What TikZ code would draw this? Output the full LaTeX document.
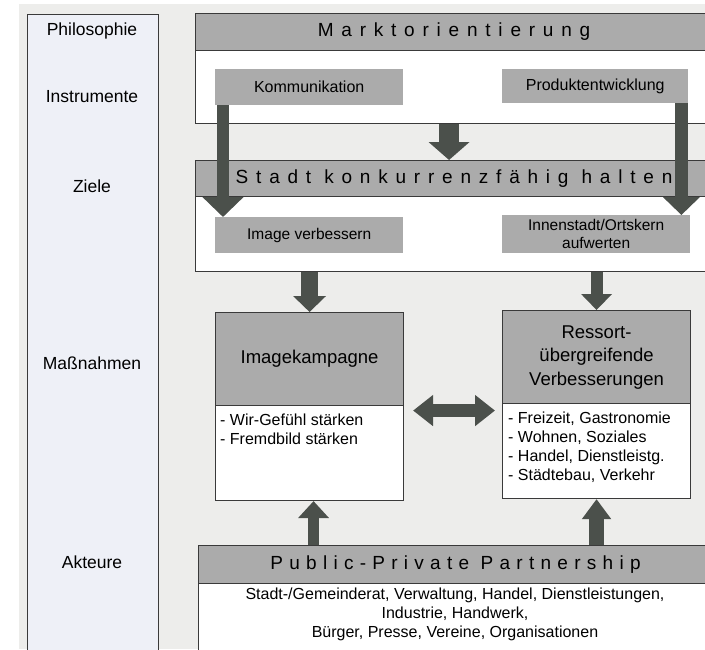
\documentclass[tikz,border=0pt]{standalone}
\usepackage{fontspec}
\setmainfont{Liberation Sans}
\newfontfamily\spaced[LetterSpace=41]{Liberation Sans}
\newfontfamily\spacedppp[LetterSpace=33]{Liberation Sans}
\usetikzlibrary{arrows.meta,positioning}
\definecolor{pagebg}{HTML}{EDEDEB}
\definecolor{colbg}{HTML}{EEF0F7}
\definecolor{headgray}{HTML}{ABABAB}
\definecolor{arrowgray}{HTML}{4B504B}
\definecolor{linegray}{HTML}{3A3A3A}
\tikzset{
  frame/.style={draw=linegray, line width=1.1pt, fill=white, anchor=north west, inner sep=0pt},
  headbox/.style={frame, fill=headgray, align=center},
  tagbox/.style={fill=headgray, anchor=north west, inner sep=0pt, align=center},
  leveltext/.style={font=\fontsize{17.5}{20}\selectfont},
  titletext/.style={font=\fontsize{18.5}{23.5}\selectfont},
  listtext/.style={anchor=west, align=left, inner sep=0pt},
  blockarrow/.style n args={3}{draw=arrowgray, line width=#1, -{Triangle[width=#2, length=#3]}},
}
\begin{document}
\begin{tikzpicture}[x=1pt, y=-1pt, font=\fontsize{16}{19}\selectfont]
\useasboundingbox (0,0) rectangle (705,649);
\fill[pagebg] (19,4) rectangle (705,649);

% left column with the levels
\node[frame, fill=colbg, minimum width=131pt, minimum height=660pt] (col) at (27,14) {};
\node[leveltext] (philo) at (92,31) {Philosophie};
\node[leveltext] (instr) at (92,97) {Instrumente};
\node[leveltext] (ziele) at (92,186) {Ziele};
\node[leveltext] (massn) at (92,363) {Maßnahmen};
\node[leveltext] (akteure) at (92,562) {Akteure};

% Philosophie / Instrumente
\node[frame, minimum width=517pt, minimum height=110pt] (markt) at (195,13) {};
\node[headbox, minimum width=517pt, minimum height=37pt] (markthead) at (195,13)
  {\spaced\fontsize{19}{22}\selectfont Marktorientierung};
\node[tagbox, minimum width=188pt, minimum height=36pt] (komm) at (215,69) {Kommunikation};
\node[tagbox, minimum width=186pt, minimum height=34pt] (prod) at (502,69) {Produktentwicklung};

% Ziele
\node[frame, minimum width=517pt, minimum height=111pt] (zielbox) at (195,160) {};
\node[headbox, minimum width=517pt, minimum height=36pt] (zielhead) at (195,160)
  {\spaced\fontsize{19}{22}\selectfont Stadt konkurrenzfähig halten};
\node[tagbox, minimum width=188pt, minimum height=36pt, font=\fontsize{15.5}{18}\selectfont] (imgv) at (215,217) {Image verbessern};
\node[tagbox, minimum width=188pt, minimum height=38pt, font=\fontsize{15.5}{18}\selectfont] (innen) at (502,215) {Innenstadt/Ortskern\\aufwerten};

% Massnahmen
\node[frame, minimum width=188pt, minimum height=188pt] (imgk) at (215,312) {};
\node[headbox, titletext, minimum width=188pt, minimum height=93pt] (imgkhead) at (215,312) {Imagekampagne};
\node[listtext] (imgklist) at (220,429) {- Wir-Gefühl stärken\\- Fremdbild stärken};

\node[frame, minimum width=188pt, minimum height=188pt] (ress) at (502,310) {};
\node[headbox, titletext, minimum width=188pt, minimum height=93pt] (resshead) at (502,310)
  {Ressort-\\übergreifende\\Verbesserungen};
\node[listtext] (resslist) at (508,447)
  {- Freizeit, Gastronomie\\- Wohnen, Soziales\\- Handel, Dienstleistg.\\- Städtebau, Verkehr};

% Akteure
\node[frame, minimum width=514pt, minimum height=110pt] (ppp) at (198,545) {};
\node[headbox, minimum width=514pt, minimum height=38pt] (ppphead) at (198,545)
  {\spacedppp\fontsize{19}{22}\selectfont Public-Private Partnership};
\node[align=center, inner sep=0pt] (pppbody) at (455,614)
  {Stadt-/Gemeinderat, Verwaltung, Handel, Dienstleistungen,\\Industrie, Handwerk,\\Bürger, Presse, Vereine, Organisationen};

% arrows
\draw[blockarrow={12pt}{40pt}{20pt}] ([xshift=8pt]komm.south west) -- ([xshift=8pt]komm.south west |- imgv.north);
\draw[blockarrow={20pt}{40pt}{18pt}] ([xshift=-5pt]markt.south) -- ([xshift=-5pt]markt.south |- zielbox.north);
\draw[blockarrow={13pt}{36pt}{18pt}] ([xshift=-7pt]prod.south east) -- ([xshift=-7pt]prod.south east |- innen.north);
\draw[blockarrow={17pt}{32pt}{16pt}] (imgk.north |- zielbox.south) -- (imgk.north);
\draw[blockarrow={12pt}{30pt}{16pt}] (ress.north |- zielbox.south) -- (ress.north);
\draw[draw=arrowgray, line width=13pt, {Triangle[width=30pt,length=20pt]}-{Triangle[width=30pt,length=20pt]},
  shorten <=9pt, shorten >=7pt] ([yshift=-4pt]imgk.east) -- ([yshift=-4pt]imgk.east -| ress.west);
\draw[blockarrow={11pt}{30pt}{17pt}] ([xshift=4pt]imgk.south |- ppp.north) -- ([xshift=4pt]imgk.south);
\draw[blockarrow={15pt}{28pt}{20pt}] (ress.south |- ppp.north) -- (ress.south);
\end{tikzpicture}
\end{document}
